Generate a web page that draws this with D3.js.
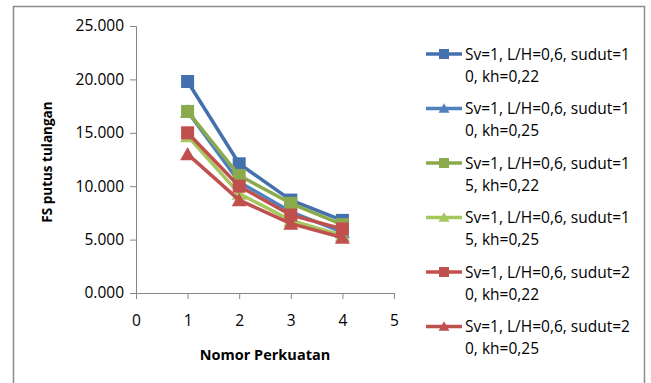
<!DOCTYPE html>
<html><head><meta charset="utf-8">
<script src="https://cdn.jsdelivr.net/npm/d3@7"></script>
<style>body{margin:0;background:#fff}svg{display:block}text{font-family:"Open Sans",sans-serif}</style>
</head><body>
<script>
const xValues = [1, 2, 3, 4];
const seriesNames = [
  ["Sv=1, L/H=0,6, sudut=1", "0, kh=0,22"],
  ["Sv=1, L/H=0,6, sudut=1", "0, kh=0,25"],
  ["Sv=1, L/H=0,6, sudut=1", "5, kh=0,22"],
  ["Sv=1, L/H=0,6, sudut=1", "5, kh=0,25"],
  ["Sv=1, L/H=0,6, sudut=2", "0, kh=0,22"],
  ["Sv=1, L/H=0,6, sudut=2", "0, kh=0,25"]
];
const s10kh22 = [19.8, 12.1, 8.7, 6.8];
const s10kh25 = [17.0, 10.4, 7.6, 5.7];
const s15kh22 = [17.0, 11.0, 8.4, 6.4];
const s15kh25 = [14.7, 9.3, 6.8, 5.4];
const s20kh22 = [15.0, 10.0, 7.3, 6.0];
const s20kh25 = [13.0, 8.7, 6.5, 5.2];
const seriesValues = [s10kh22, s10kh25, s15kh22, s15kh25, s20kh22, s20kh25];
const seriesColors = ["#4470AD", "#4F81BD", "#8BAA4B", "#A6C65E", "#C0504D", "#C0504D"];
const seriesMarkers = ["square", "triangle", "square", "triangle", "square", "triangle"];
const yTicks = [0, 5, 10, 15, 20, 25];
const xTicks = [0, 1, 2, 3, 4, 5];
const yLabel = "FS putus tulangan";
const xLabel = "Nomor Perkuatan";

const W = 651, H = 383;
const svg = d3.select("body").append("svg").attr("width", W).attr("height", H);
svg.append("rect").attr("x", 13.5).attr("y", 6.5).attr("width", 631).attr("height", 390)
  .attr("fill", "#fff").attr("stroke", "#8c8c8c").attr("stroke-width", 1.5);

const x = d3.scaleLinear().domain([0, 5]).range([136, 394]);
const y = d3.scaleLinear().domain([0, 25]).range([293, 26]);

const yAxis = svg.append("g").attr("transform", "translate(136,0)")
  .call(d3.axisLeft(y).tickValues(yTicks).tickSize(6).tickPadding(6).tickFormat(d => d3.format(".3f")(d)));
const xAxis = svg.append("g").attr("transform", "translate(0,293)")
  .call(d3.axisBottom(x).tickValues(xTicks).tickSize(6).tickPadding(16).tickFormat(d3.format("d")));
[yAxis, xAxis].forEach(g => {
  g.select(".domain").attr("stroke", "#868686").attr("stroke-width", 1);
  g.selectAll(".tick line").attr("stroke", "#868686");
  g.selectAll(".tick text").attr("fill", "#000").style("font-size", "15.5px").style("font-family", "'Open Sans',sans-serif");
});

svg.append("text").attr("transform", "translate(52,162) rotate(-90)").attr("text-anchor", "middle")
  .style("font-size", "13.5px").style("font-weight", "bold").text(yLabel);
svg.append("text").attr("x", 265).attr("y", 360).attr("text-anchor", "middle")
  .style("font-size", "14.5px").style("font-weight", "bold").text(xLabel);

const line = d3.line().x((d, i) => x(xValues[i])).y(d => y(d));
function marker(g, type, color, cx, cy, s) {
  if (type === "square") {
    g.append("rect").attr("x", cx - s / 2).attr("y", cy - s / 2).attr("width", s).attr("height", s).attr("fill", color);
  } else {
    const h = s * 0.95;
    g.append("path").attr("d", `M${cx},${cy - h / 2 - 1}L${cx + s / 2 + 1},${cy + h / 2}L${cx - s / 2 - 1},${cy + h / 2}Z`).attr("fill", color);
  }
}
const plot = svg.append("g");
seriesValues.forEach((vals, k) => {
  const g = plot.append("g");
  g.append("path").attr("d", line(vals)).attr("fill", "none").attr("stroke", seriesColors[k]).attr("stroke-width", 3.5).attr("stroke-linejoin", "round");
  vals.forEach((v, i) => marker(g, seriesMarkers[k], seriesColors[k], x(xValues[i]), y(v), 13));
});

const leg = svg.append("g");
seriesNames.forEach((nm, k) => {
  const cy = 54 + k * 54.5;
  leg.append("line").attr("x1", 426).attr("x2", 462).attr("y1", cy).attr("y2", cy).attr("stroke", seriesColors[k]).attr("stroke-width", 3.5);
  marker(leg, seriesMarkers[k], seriesColors[k], 444, cy, seriesMarkers[k] === "square" ? 10 : 9);
  const t = leg.append("text").style("font-size", "15.5px");
  t.append("tspan").attr("x", 465).attr("y", cy + 5.5).text(nm[0]);
  t.append("tspan").attr("x", 465).attr("y", cy + 27.5).text(nm[1]);
});
</script>
</body></html>
